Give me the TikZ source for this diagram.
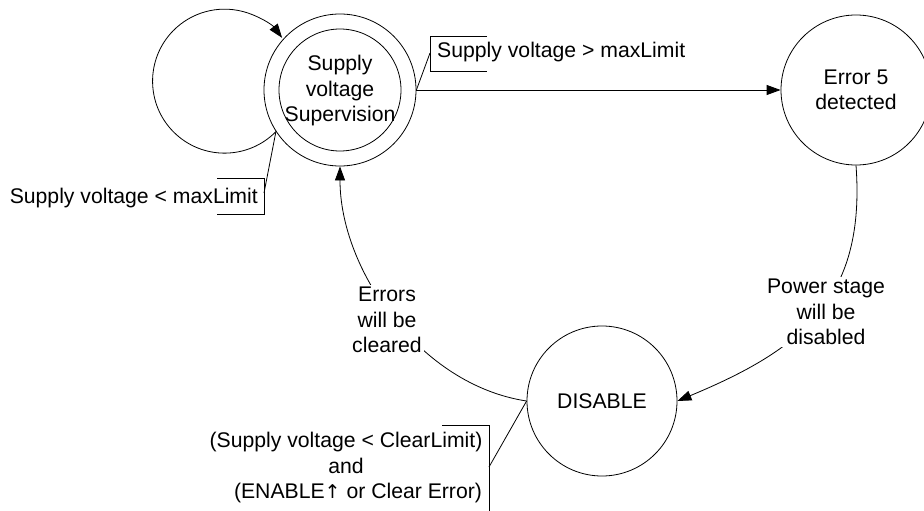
\documentclass[tikz,border=0pt]{standalone}
\usepackage{fontspec}
\setmainfont{Liberation Sans}
\newfontfamily\arrowfont{DejaVu Sans}
\usetikzlibrary{arrows.meta}
\begin{document}
\begin{tikzpicture}[x=1pt,y=1pt,
  font=\fontsize{21.2}{25.5}\selectfont,
  state/.style={circle, draw, line width=0.8pt, inner sep=0pt},
  arr/.style={line width=0.8pt, -{Triangle[length=14pt,width=10pt]}},
  ln/.style={line width=0.8pt},
  lab/.style={align=center, inner sep=2pt, fill=white},
  txt/.style={align=center, inner sep=0pt}]
\useasboundingbox (0,0) rectangle (924,-511);
% states
\node[state, minimum size=152pt] (supo) at (340,-90) {};
\node[state, minimum size=122pt] (sup) at (340,-90) {};
\node[txt] (supt) at (340,-91) {Supply\\voltage\\Supervision};
\node[state, minimum size=150pt, align=center] (err) at (856,-90) {Error 5\\detected};
\node[state, minimum size=150pt] (dis) at (602,-401) {DISABLE};
% self loop
\draw[arr] (supo.213) arc[start angle=-44.5, end angle=-323, radius=72];
\node[txt, anchor=east] (l1) at (258,-198) {Supply voltage < maxLimit};
\draw[ln] (217,-178) -- (264,-178) -- (264,-214) -- (217,-214);
\coordinate (b1) at (264,-193);
\draw[ln] (b1) -- (supo.213);
% supervision -> error
\draw[arr] (supo.east) -- (err.west);
\node[txt, anchor=west] (l2) at (437,-52) {Supply voltage > maxLimit};
\draw[ln] (487,-36) -- (430,-36) -- (430,-71) -- (487,-71);
\coordinate (b2) at (430,-53);
\draw[ln] (b2) -- (supo.east);
% error -> disable
\draw[arr] (err.south) .. controls (866,-300) and (800,-350) .. (dis.east);
\node[lab] (l3) at (826,-312) {Power stage\\will be\\disabled};
% disable -> supervision
\draw[arr] (dis.west) .. controls (420,-385) and (340,-270) .. (supo.south);
\node[lab] (l4) at (387,-320) {Errors\\will be\\cleared};
% disable condition
\node[txt] (l5) at (346,-468) {(Supply voltage < ClearLimit)\\and\\\hspace*{24pt}(ENABLE{\arrowfont\fontsize{19}{25.5}\selectfont ↑} or Clear Error)};
\draw[ln] (442,-425) -- (489,-425) -- (489,-511);
\coordinate (b5) at (489,-467);
\draw[ln] (b5) -- (dis.west);
\end{tikzpicture}
\end{document}
